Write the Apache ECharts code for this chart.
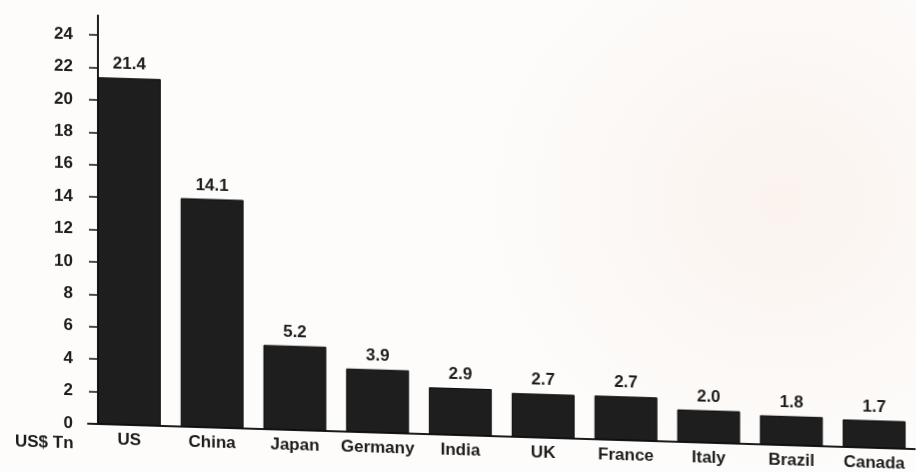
<!DOCTYPE html>
<html>
<head>
<meta charset="utf-8">
<script src="https://cdn.jsdelivr.net/npm/echarts@6/dist/echarts.min.js"></script>
<style>
  html, body { margin: 0; padding: 0; }
  body {
    width: 916px; height: 472px; overflow: hidden;
    background:
      radial-gradient(ellipse 300px 280px at 780px 200px, rgba(247, 232, 222, 0.45), rgba(255, 255, 255, 0) 100%),
      #fdfcfb;
  }
  /* printed page sits at a slight angle: horizontal lines drop towards the right */
  #chart {
    width: 916px; height: 472px;
    transform: skewY(1.76deg);
    transform-origin: 98px 0;
  }
</style>
</head>
<body>
<div id="chart"></div>
<script>
// GDP by country, US$ trillion
const countries = ['US', 'China', 'Japan', 'Germany', 'India', 'UK', 'France', 'Italy', 'Brazil', 'Canada'];
const gdp = [21.4, 14.1, 5.2, 3.9, 2.9, 2.7, 2.7, 2.0, 1.8, 1.7];
const yTicks = [0, 2, 4, 6, 8, 10, 12, 14, 16, 18, 20, 22, 24];
const unitLabel = 'US$ Tn';

const ink = '#1c1c1c';
const font = '"Liberation Sans", Arial, sans-serif';
const textSize = 17;

const chart = echarts.init(document.getElementById('chart'), null, { renderer: 'canvas' });

chart.setOption({
  animation: false,
  backgroundColor: 'transparent',
  title: {
    text: unitLabel,
    left: 10,
    top: 431,
    textStyle: { fontFamily: font, fontSize: textSize, fontWeight: 'bold', color: ink }
  },
  grid: { left: 88, right: -8, top: 15.6, bottom: 48, containLabel: false },
  xAxis: {
    type: 'category',
    data: countries,
    axisLine: { show: true, lineStyle: { color: ink, width: 2 } },
    axisTick: { show: false },
    axisLabel: {
      interval: 0,
      hideOverlap: false,
      margin: 7,
      fontFamily: font, fontSize: textSize, fontWeight: 'bold', color: ink
    },
    splitLine: { show: false }
  },
  yAxis: {
    type: 'value',
    min: 0,
    max: 25.2,
    offset: -10,
    axisLine: { show: true, lineStyle: { color: ink, width: 2 } },
    axisTick: {
      show: true, inside: false, length: 9,
      customValues: yTicks,
      lineStyle: { color: ink, width: 1.6 }
    },
    axisLabel: {
      customValues: yTicks,
      margin: 25,
      fontFamily: font, fontSize: textSize, fontWeight: 'bold', color: ink
    },
    splitLine: { show: false }
  },
  series: [{
    type: 'bar',
    data: gdp,
    barCategoryGap: '24%',
    itemStyle: { color: '#1e1e1e', borderColor: '#0d0d0d', borderWidth: 1 },
    label: {
      show: true,
      position: 'top',
      distance: 5,
      formatter: p => p.value.toFixed(1),
      fontFamily: font, fontSize: textSize, fontWeight: 'bold', color: ink
    }
  }]
});
</script>
</body>
</html>
